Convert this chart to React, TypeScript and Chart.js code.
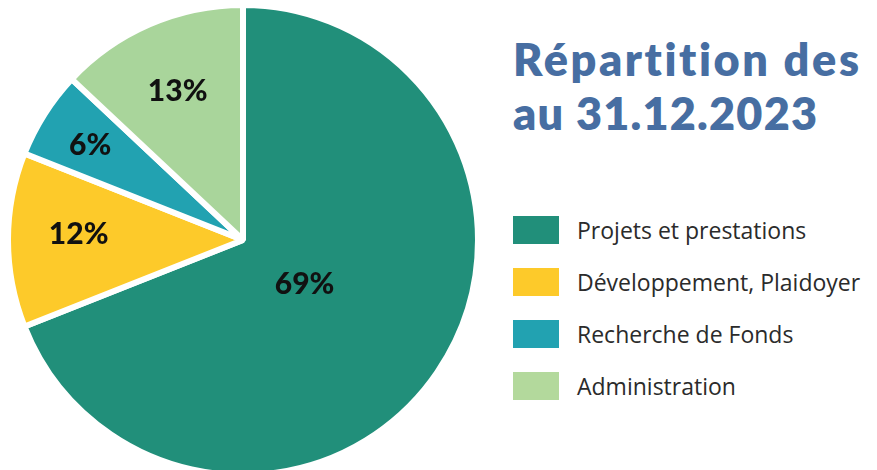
import React, { useEffect, useRef } from "react";
import { Chart, registerables } from "chart.js";

Chart.register(...registerables);

const categories = [
  "Projets et prestations",
  "Développement, Plaidoyer",
  "Recherche de Fonds",
  "Administration",
];
const shares = [69, 12, 6, 13];
const sliceColors = ["#218F7A", "#FDCA2A", "#22A2B1", "#A9D59B"];
const legendColors = ["#218F7A", "#FDCA2A", "#22A2B1", "#B3D99C"];
const titleLines = ["Répartition des", "au 31.12.2023"];

// label placement (style only): distance as a fraction of radius, angle nudge in degrees
const labelRadius = [0.317, 0.7, 0.77, 0.7];
const labelAngleNudge = [0, 2.5, 0, 0];

const labelPlugin = {
  id: "sliceLabels",
  afterDatasetsDraw(chart: any) {
    const ctx = chart.ctx;
    const meta = chart.getDatasetMeta(0);
    ctx.save();
    ctx.font = "900 30px Lato";
    ctx.fillStyle = "#111111";
    ctx.textAlign = "center";
    ctx.textBaseline = "middle";
    meta.data.forEach((arc: any, i: number) => {
      const { x, y, startAngle, endAngle, outerRadius } = arc.getProps(
        ["x", "y", "startAngle", "endAngle", "outerRadius"],
        true
      );
      const mid = (startAngle + endAngle) / 2 + (labelAngleNudge[i] * Math.PI) / 180;
      const r = outerRadius * labelRadius[i];
      ctx.fillText(shares[i] + "%", x + Math.cos(mid) * r, y + Math.sin(mid) * r + 2);
    });
    ctx.restore();
  },
};

export default function App() {
  const canvasRef = useRef<HTMLCanvasElement | null>(null);

  useEffect(() => {
    if (!canvasRef.current) return;
    const chart = new Chart(canvasRef.current, {
      type: "pie",
      data: {
        labels: categories,
        datasets: [
          {
            data: shares,
            backgroundColor: sliceColors,
            borderColor: "#ffffff",
            borderWidth: 6,
          },
        ],
      },
      options: {
        responsive: false,
        animation: false,
        radius: 235,
        layout: { padding: 0 },
        plugins: {
          legend: { display: false },
          tooltip: { enabled: false },
          title: { display: false },
        },
      },
      plugins: [labelPlugin],
    });
    return () => chart.destroy();
  }, []);

  return (
    <div
      style={{
        position: "fixed",
        left: 0,
        top: 0,
        width: 877,
        height: 470,
        overflow: "hidden",
        background: "#ffffff",
      }}
    >
      <canvas
        ref={canvasRef}
        width={486}
        height={480}
        style={{ position: "absolute", left: 0, top: 0, width: 486, height: 480 }}
      />
      <div
        style={{
          position: "absolute",
          left: 513,
          top: 32,
          fontFamily: "Lato, 'Open Sans', sans-serif",
          fontWeight: 800,
          fontSize: 45,
          lineHeight: "54px",
          color: "#476EA2",
          whiteSpace: "nowrap",
        }}
      >
        {titleLines.map((t, i) => (
          <div key={i} style={{ letterSpacing: i === 0 ? "2.6px" : "1.2px" }}>
            {t}
          </div>
        ))}
      </div>
      <div
        style={{
          position: "absolute",
          left: 513,
          top: 216,
          display: "flex",
          flexDirection: "column",
          gap: 24,
          fontFamily: "'Open Sans', 'Noto Sans', sans-serif",
          fontSize: 23,
          color: "#2b2b2b",
        }}
      >
        {categories.map((c, i) => (
          <div key={c} style={{ display: "flex", alignItems: "center", height: 28 }}>
            <div style={{ width: 46, height: 28, background: legendColors[i], marginRight: 18, flexShrink: 0 }} />
            <span style={{ lineHeight: "28px", whiteSpace: "nowrap" }}>{c}</span>
          </div>
        ))}
      </div>
    </div>
  );
}
